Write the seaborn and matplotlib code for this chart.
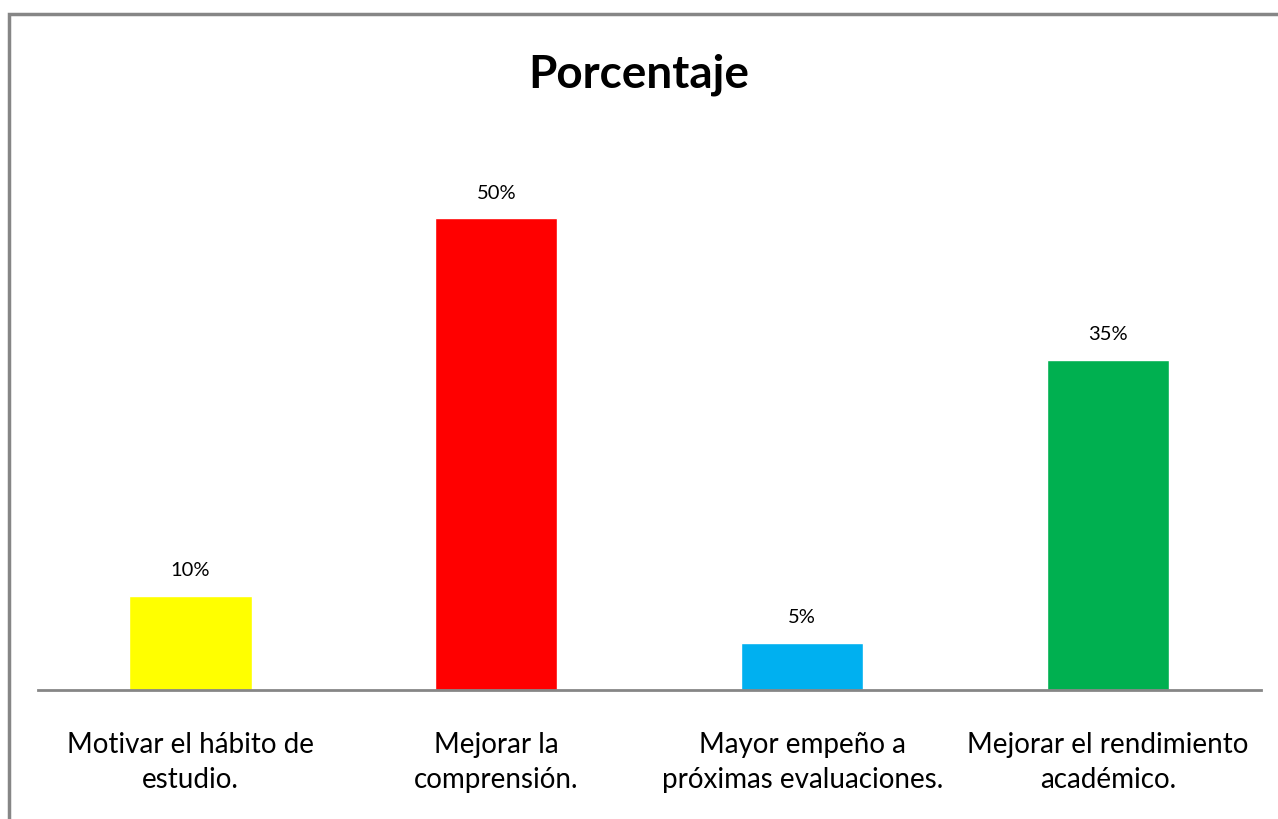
import matplotlib
matplotlib.use("Agg")
import matplotlib.pyplot as plt
import pandas as pd
import seaborn as sns
from matplotlib.patches import Rectangle

# Data
categories = ["Motivar el hábito de\nestudio.",
              "Mejorar la\ncomprensión.",
              "Mayor empeño a\npróximas evaluaciones.",
              "Mejorar el rendimiento\nacadémico."]
values = [10, 50, 5, 35]
colors = ["#FFFF00", "#FF0000", "#00B0F0", "#00B050"]

df = pd.DataFrame({"categoria": categories, "porcentaje": values})

sns.set_style("white")
plt.rcParams["font.family"] = ["Lato", "DejaVu Sans"]
plt.rcParams["text.color"] = "black"
plt.rcParams["xtick.color"] = "black"

fig = plt.figure(figsize=(12.78, 8.19), dpi=100)
ax = fig.add_axes([37.5 / 1278, 1 - 690 / 819, (1261 - 37.5) / 1278, (690 - 124) / 819])

sns.barplot(data=df, x="categoria", y="porcentaje", hue="categoria",
            palette=colors, width=0.4, saturation=1, legend=False, ax=ax)

ax.set_ylim(0, 60)
ax.set_xlim(-0.5, 3.5)
ax.set(xlabel="", ylabel="")
ax.set_yticks([])
for side in ["top", "left", "right"]:
    ax.spines[side].set_visible(False)
ax.spines["bottom"].set_color("#868686")
ax.spines["bottom"].set_linewidth(2)
ax.tick_params(axis="x", length=0, pad=30, labelsize=20, labelcolor="black")
for lbl in ax.get_xticklabels():
    lbl.set_linespacing(1.45)

for i, v in enumerate(values):
    ax.annotate(f"{v}%", (i, v), xytext=(0, 12), textcoords="offset points",
                ha="center", va="bottom", fontsize=14.5, color="black")

fig.text(0.5, 1 - 75 / 819, "Porcentaje", ha="center", va="center",
         fontsize=33, fontweight="bold", color="black")

# outer chart frame
fig.patches.append(Rectangle((9 / 1278, -0.1), 1.2, 1 - 14 / 819 + 0.1,
                             transform=fig.transFigure, fill=False,
                             edgecolor="#868686", linewidth=2.5))

fig.savefig("out.png", dpi=100)
